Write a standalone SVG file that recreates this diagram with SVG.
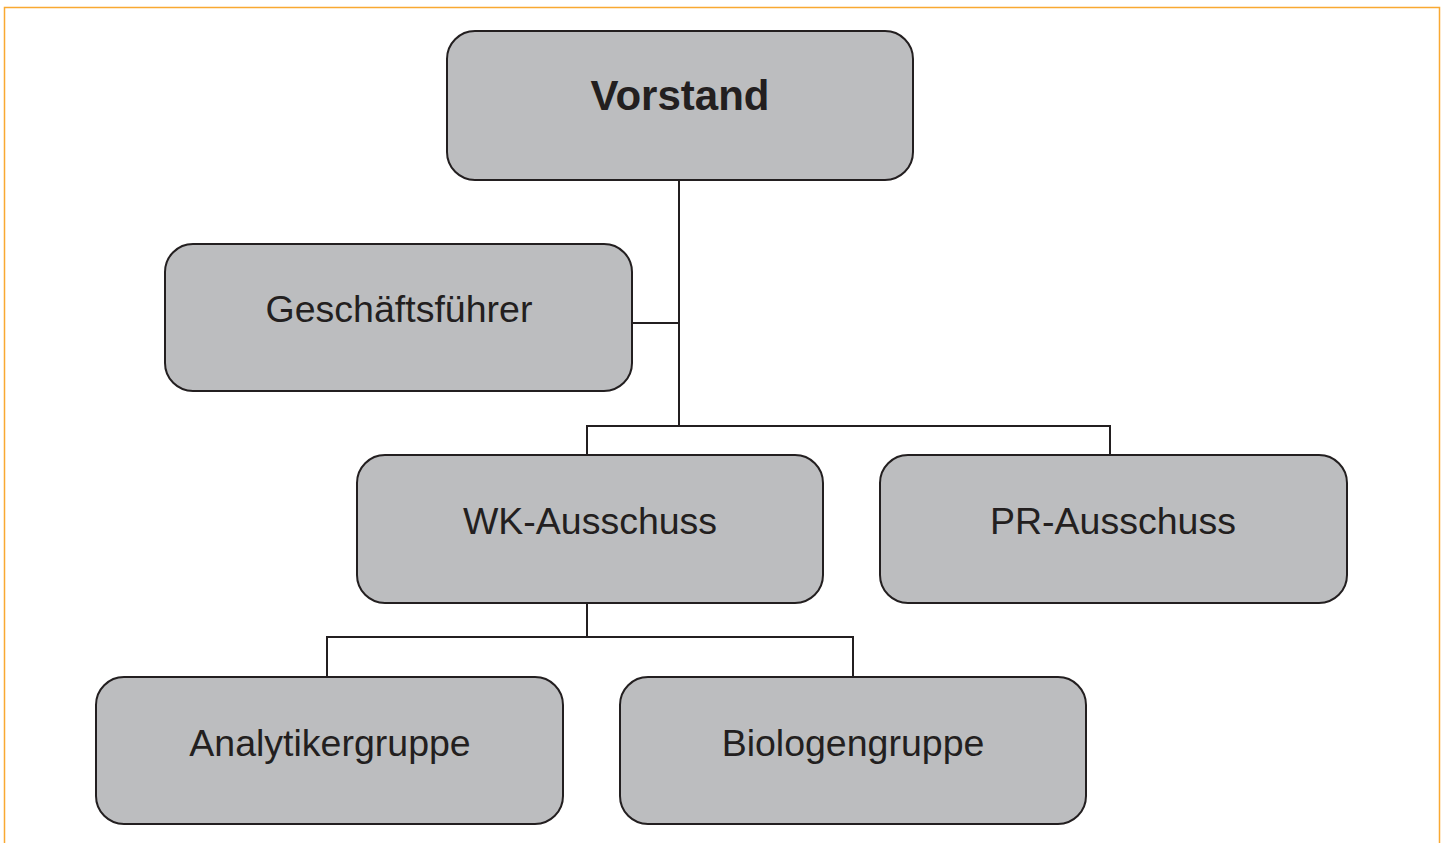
<svg xmlns="http://www.w3.org/2000/svg" width="1447" height="843" viewBox="0 0 1447 843">
<style>
.box{fill:#bcbdbf;stroke:#231f20;stroke-width:2}
.lbl{font-family:"Liberation Sans",Arial,sans-serif;font-size:37.5px;fill:#231f20;text-anchor:middle}
.b{font-weight:bold;font-size:42px}
.con{fill:none;stroke:#231f20;stroke-width:2}
</style>
<rect x="0" y="0" width="1447" height="843" fill="#ffffff"/>
<path d="M4.5,850 V7.5 H1439.5 V850" fill="none" stroke="#f9a932" stroke-width="1.5"/>
<g id="connectors">
<path class="con" d="M679,180 V426 M632,323 H679 M587,455 V426 H1110 V455 M587,603 V637 M327,677 V637 H853 V677"/>
</g>
<g id="vorstand"><rect class="box" x="447" y="31" width="466" height="149" rx="28"/><text class="lbl b" x="680" y="110">Vorstand</text></g>
<g id="gf"><rect class="box" x="165" y="244" width="467" height="147" rx="28"/><text class="lbl" x="399" y="322">Geschäftsführer</text></g>
<g id="wk"><rect class="box" x="357" y="455" width="466" height="148" rx="28"/><text class="lbl" x="590" y="534">WK-Ausschuss</text></g>
<g id="pr"><rect class="box" x="880" y="455" width="467" height="148" rx="28"/><text class="lbl" x="1113" y="534">PR-Ausschuss</text></g>
<g id="analytiker"><rect class="box" x="96" y="677" width="467" height="147" rx="28"/><text class="lbl" x="330" y="756">Analytikergruppe</text></g>
<g id="biologen"><rect class="box" x="620" y="677" width="466" height="147" rx="28"/><text class="lbl" x="853" y="756">Biologengruppe</text></g>
</svg>
